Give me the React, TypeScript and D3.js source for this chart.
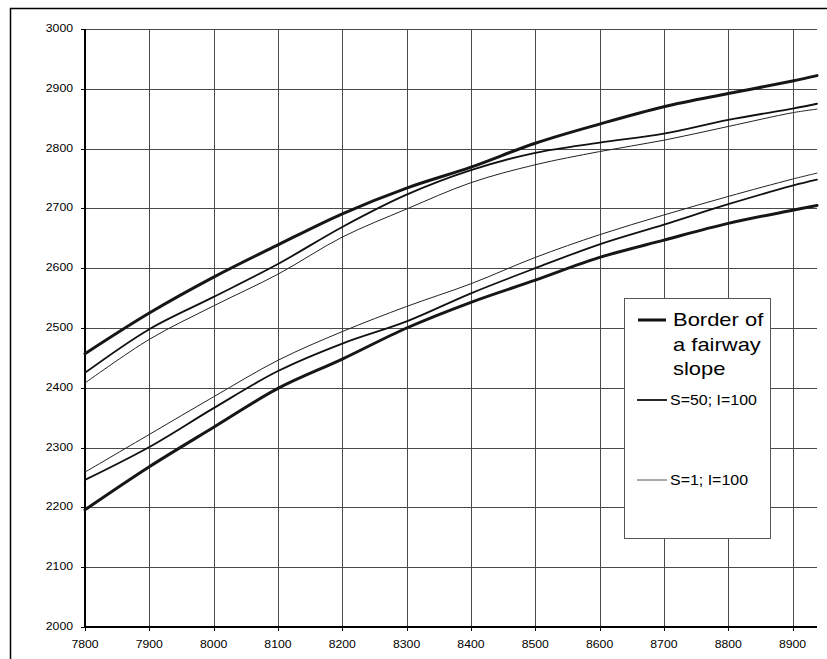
import * as React from "react";
import * as d3 from "d3";

// chainage along the fairway (x) and the depth values (y)
const xValues = [7800, 7900, 8000, 8100, 8200, 8300, 8400, 8500, 8600, 8700, 8800, 8900, 8938];

const upperBorder = [2457, 2525, 2585, 2639, 2691, 2734, 2769, 2809, 2841, 2870, 2892, 2913, 2922];
const upperS50 = [2425, 2498, 2552, 2607, 2669, 2723, 2764, 2793, 2810, 2825, 2848, 2867, 2875];
const upperS1 = [2408, 2481, 2537, 2590, 2652, 2699, 2743, 2773, 2795, 2814, 2837, 2860, 2866];
const lowerS1 = [2259, 2322, 2385, 2446, 2494, 2536, 2574, 2618, 2656, 2689, 2720, 2749, 2759];
const lowerS50 = [2246, 2301, 2366, 2428, 2474, 2511, 2558, 2600, 2640, 2673, 2707, 2738, 2748];
const lowerBorder = [2196, 2268, 2334, 2399, 2448, 2500, 2543, 2580, 2618, 2647, 2675, 2697, 2705];

const xTicks = [7800, 7900, 8000, 8100, 8200, 8300, 8400, 8500, 8600, 8700, 8800, 8900];
const yTicks = [2000, 2100, 2200, 2300, 2400, 2500, 2600, 2700, 2800, 2900, 3000];

const legendItems = [
  { lines: ["Border of", "a fairway", "slope"], width: 3, color: "#111" },
  { lines: ["S=50; I=100"], width: 1.8, color: "#111" },
  { lines: ["S=1; I=100"], width: 1, color: "#555" },
];

const FONT = "'Liberation Sans', Arial, sans-serif";

export default function App() {
  const width = 827;
  const height = 659;
  const left = 85, right = 817, top = 29, bottom = 627;

  const x = d3.scaleLinear().domain([7800, 8938]).range([left, right]);
  const y = d3.scaleLinear().domain([2000, 3000]).range([bottom, top]);

  const line = d3.line<number>()
    .x((_, i) => x(xValues[i]))
    .y(d => y(d))
    .curve(d3.curveCatmullRom.alpha(0.5));

  const series = [
    { data: upperBorder, w: 3, c: "#161616" },
    { data: upperS50, w: 1.8, c: "#111" },
    { data: upperS1, w: 1, c: "#222" },
    { data: lowerS1, w: 1, c: "#222" },
    { data: lowerS50, w: 1.8, c: "#111" },
    { data: lowerBorder, w: 3, c: "#161616" },
  ];

  return (
    <svg width={width} height={height} style={{ position: "absolute", left: 0, top: 0 }}>
      <rect x={0} y={0} width={width} height={height} fill="#fff" />
      {/* outer chart frame */}
      <rect x={10.5} y={8.5} width={width + 20} height={height + 20} fill="none" stroke="#000" strokeWidth={1.5} />

      {/* grid */}
      <g stroke="#4a4a4a" strokeWidth={1}>
        {xTicks.slice(1).map(t => (
          <line key={"gx" + t} x1={Math.round(x(t)) + 0.5} x2={Math.round(x(t)) + 0.5} y1={top} y2={bottom} />
        ))}
        {yTicks.slice(1).map(t => (
          <line key={"gy" + t} x1={left} x2={right} y1={Math.round(y(t)) + 0.5} y2={Math.round(y(t)) + 0.5} />
        ))}
      </g>

      {/* ticks */}
      <g stroke="#000" strokeWidth={1}>
        {yTicks.map(t => (
          <line key={"ty" + t} x1={81} x2={left} y1={Math.round(y(t)) + 0.5} y2={Math.round(y(t)) + 0.5} />
        ))}
        {xTicks.map(t => (
          <line key={"tx" + t} x1={Math.round(x(t)) + 0.5} x2={Math.round(x(t)) + 0.5} y1={bottom} y2={bottom + 4} />
        ))}
      </g>

      {/* axes */}
      <line x1={left} x2={left} y1={top} y2={bottom + 1} stroke="#000" strokeWidth={2} />
      <line x1={left} x2={right} y1={bottom} y2={bottom} stroke="#000" strokeWidth={1.8} />

      {/* tick labels */}
      <g fontFamily={FONT} fontSize={10.2} fill="#000">
        {yTicks.map(t => (
          <text key={"ly" + t} transform={`translate(73,${y(t) + 3}) scale(1.2,1)`} textAnchor="end">{t}</text>
        ))}
        {xTicks.map(t => (
          <text key={"lx" + t} transform={`translate(${x(t)},648) scale(1.2,1)`} textAnchor="middle">{t}</text>
        ))}
      </g>

      {/* curves */}
      <g fill="none" strokeLinejoin="round" strokeLinecap="round">
        {series.map((s, i) => (
          <path key={i} d={line(s.data) || ""} stroke={s.c} strokeWidth={s.w} />
        ))}
      </g>

      {/* legend */}
      <g>
        <rect x={624.5} y={298.5} width={146} height={240} fill="#fff" stroke="#555" strokeWidth={1} />
        <line x1={638} x2={666} y1={320} y2={320} stroke={legendItems[0].color} strokeWidth={legendItems[0].width} />
        {legendItems[0].lines.map((t, i) => (
          <text key={t} transform={`translate(673,${326 + i * 24.5}) scale(1.22,1)`} fontFamily={FONT} fontSize={18}>{t}</text>
        ))}
        <line x1={637} x2={667} y1={400} y2={400} stroke={legendItems[1].color} strokeWidth={legendItems[1].width} />
        <text transform="translate(670,405) scale(1.14,1)" fontFamily={FONT} fontSize={14}>{legendItems[1].lines[0]}</text>
        <line x1={637} x2={667} y1={480} y2={480} stroke={legendItems[2].color} strokeWidth={legendItems[2].width} />
        <text transform="translate(670,485) scale(1.14,1)" fontFamily={FONT} fontSize={14}>{legendItems[2].lines[0]}</text>
      </g>
    </svg>
  );
}
